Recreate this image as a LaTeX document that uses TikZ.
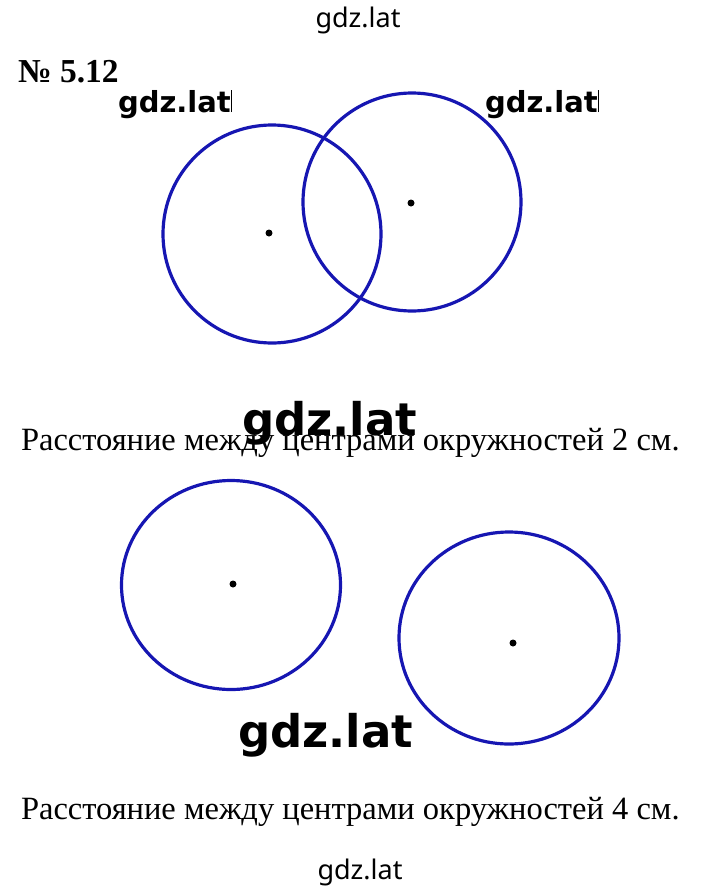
\documentclass[tikz,border=0pt]{standalone}
\usepackage{fontspec}
\setmainfont{Liberation Serif}
\newfontfamily\wmfont{Noto Sans}
\newfontfamily\wmboldfont{DejaVu Sans}
\usetikzlibrary{positioning}
\usetikzlibrary{shapes.geometric}

\begin{document}
\begin{tikzpicture}[x=1pt, y=-1pt]
    \tikzset{every node/.style={inner sep=0pt, outer sep=0pt}}
    \tikzset{kreis/.style={circle, draw=Kreis_blau, line width=3.2pt}}
    \tikzset{punkt/.style={circle, fill=black, minimum size=7pt}}
    \tikzset{wasserzeichen/.style={anchor=base west, font=\wmboldfont\bfseries\fontsize{29}{29}\selectfont}}
    \tikzset{satz/.style={anchor=base west, font=\fontsize{32.5}{32.5}\selectfont}}

    % Farben
    \definecolor{Kreis_blau}{RGB}{22,22,178}

    \useasboundingbox (0,0) rectangle (720,887);

    % Wasserzeichen oben und unten
    \node[anchor=base, font=\wmfont\fontsize{27}{27}\selectfont] (wmOben) at (358,27) {gdz.lat};
    \node[anchor=base, font=\wmfont\fontsize{27}{27}\selectfont] (wmUnten) at (360,879) {gdz.lat};

    % Aufgabennummer
    \node[anchor=base west, font=\bfseries\fontsize{33.5}{33.5}\selectfont] (nummer) at (18,82) {№ 5.12};

    % Erste Aufgabe: Abstand 2 cm
    \node[kreis, minimum size=218pt] (kreisA) at (272,234) {};
    \node[kreis, minimum size=218pt] (kreisB) at (412,202) {};
    \node[punkt] (mitteA) at (269,233) {};
    \node[punkt] (mitteB) at (411,203) {};
    \node[wasserzeichen] (wmA) at (118,112) {gdz.lat\rule{1.5pt}{22pt}};
    \node[wasserzeichen] (wmB) at (485,112) {gdz.lat\rule{1.5pt}{22pt}};
    \node[satz] (satzA) at (21,450) {Расстояние между центрами окружностей 2 см.};
    \node[wasserzeichen, font=\wmboldfont\bfseries\fontsize{45}{45}\selectfont] (wmC) at (242,435) {gdz.lat};

    % Zweite Aufgabe: Abstand 4 cm
    \node[kreis, ellipse, minimum width=219pt, minimum height=209pt] (kreisC) at (231,585) {};
    \node[kreis, ellipse, minimum width=220pt, minimum height=212pt] (kreisD) at (509,638) {};
    \node[punkt] (mitteC) at (233,584) {};
    \node[punkt] (mitteD) at (513,643) {};
    \node[wasserzeichen, font=\wmboldfont\bfseries\fontsize{45}{45}\selectfont] (wmD) at (238,747) {gdz.lat};
    \node[satz] (satzB) at (21,819) {Расстояние между центрами окружностей 4 см.};
\end{tikzpicture}
\end{document}
